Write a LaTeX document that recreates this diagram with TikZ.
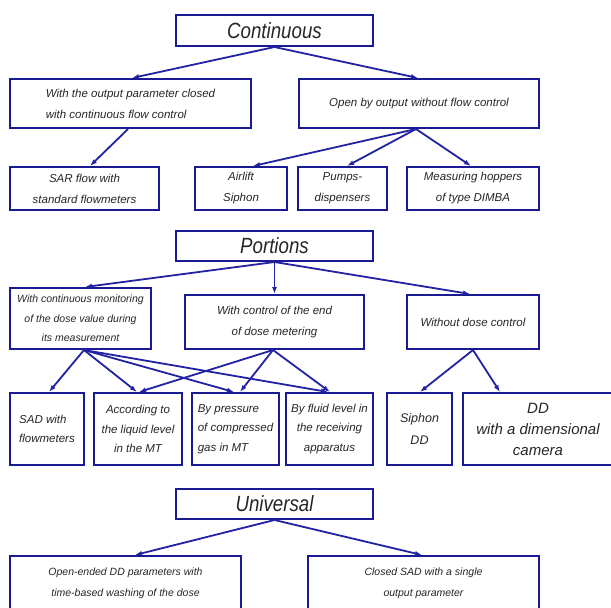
\documentclass[tikz,border=0pt]{standalone}
\usepackage{fontspec}
\setmainfont{Liberation Sans}
\newfontfamily\hdfont[FakeStretch=0.85]{Liberation Sans}
\usetikzlibrary{arrows.meta}
\definecolor{boxblue}{HTML}{1A1A92}
\definecolor{arrblue}{HTML}{2222A4}
\definecolor{txt}{HTML}{262626}
\begin{document}
\begin{tikzpicture}[x=1pt,y=-1pt,
 box/.style={draw=boxblue,line width=2pt,rectangle,inner sep=0pt,align=center,text=txt,
   font=\fontsize{11.5}{21}\selectfont\itshape},
 head/.style={box,font=\hdfont\fontsize{22}{24}\selectfont\itshape},
 three/.style={font=\fontsize{11.5}{19.5}\selectfont\itshape},
 arr/.style={draw=arrblue,line width=1.8pt,-{Latex[length=7pt,width=5pt]}}]
\useasboundingbox[fill=white] (0,0) rectangle (611,608);

% Continuous
\node[head,minimum width=197pt,minimum height=31pt] (cont) at (274.5,30.5) {Continuous};
\node[box,align=left,minimum width=241pt,minimum height=49pt] (l2a) at (130.5,103.5)
  {With the output parameter closed\\with continuous flow control};
\node[box,minimum width=240pt,minimum height=49pt] (l2b) at (419,103.5)
  {Open by output without flow control};
\node[box,minimum width=149pt,minimum height=43pt] (sar) at (84.5,188.5)
  {SAR flow with\\standard flowmeters};
\node[box,minimum width=92pt,minimum height=43pt] (air) at (241,188.5) {Airlift\\Siphon};
\node[box,minimum width=89pt,minimum height=43pt] (pump) at (342.5,188.5) {Pumps-\\dispensers};
\node[box,minimum width=132pt,minimum height=43pt] (meas) at (473,188.5)
  {Measuring hoppers\\of type DIMBA};

% Portions
\node[head,minimum width=197pt,minimum height=30pt] (port) at (274.5,246) {Portions};
\node[box,font=\fontsize{10.5}{19.5}\selectfont\itshape,minimum width=141pt,minimum height=61pt] (pa) at (80.5,318.5)
  {With continuous monitoring\\of the dose value during\\its measurement};
\node[box,minimum width=179pt,minimum height=54pt] (pb) at (274.5,322)
  {With control of the end\\of dose metering};
\node[box,minimum width=132pt,minimum height=54pt] (pc) at (473,322) {Without dose control};

\node[box,three,align=left,minimum width=74pt,minimum height=72pt] (sad) at (47,429)
  {SAD with\\flowmeters};
\node[box,three,minimum width=88pt,minimum height=72pt] (acc) at (138,429)
  {According to\\the liquid level\\in the MT};
\node[box,three,align=left,minimum width=87pt,minimum height=72pt] (pres) at (235.5,429)
  {By pressure\\of compressed\\gas in MT};
\node[box,three,minimum width=87pt,minimum height=72pt] (flu) at (329.5,429)
  {By fluid level in\\the receiving\\apparatus};
\node[box,font=\fontsize{12.5}{22}\selectfont\itshape,minimum width=65pt,minimum height=72pt] (sip) at (419.5,429)
  {Siphon\\DD};
\node[box,font=\fontsize{15}{21}\selectfont\itshape,minimum width=150pt,minimum height=72pt] (dd) at (538,429)
  {DD\\with a dimensional\\camera};

% Universal
\node[head,minimum width=197pt,minimum height=30pt] (univ) at (274.5,504) {Universal};
\node[box,font=\fontsize{10.5}{21}\selectfont\itshape,minimum width=231pt,minimum height=54pt] (ua) at (125.5,583)
  {Open-ended DD parameters with\\time-based washing of the dose};
\node[box,font=\fontsize{10.5}{21}\selectfont\itshape,minimum width=231pt,minimum height=54pt] (ub) at (423.5,583)
  {Closed SAD with a single\\output parameter};

% connectors
\draw[arr] (cont.south) -- ([xshift=1.5pt]l2a.north);
\draw[arr] (cont.south) -- ([xshift=-1pt]l2b.north);
\draw[arr] ([xshift=-2.5pt]l2a.south) -- ([xshift=5.5pt]sar.north);
\draw[arr] ([xshift=-3pt]l2b.south) -- ([xshift=12pt]air.north);
\draw[arr] ([xshift=-3pt]l2b.south) -- ([xshift=4.5pt]pump.north);
\draw[arr] ([xshift=-3pt]l2b.south) -- ([xshift=-2pt]meas.north);

\draw[arr] (port.south) -- ([xshift=4.5pt]pa.north);
\draw[arr] (port.south) -- (pb.north);
\draw[arr] (port.south) -- ([xshift=-3pt]pc.north);

\draw[arr] ([xshift=3.5pt]pa.south) -- ([xshift=2pt]sad.north);
\draw[arr] ([xshift=3.5pt]pa.south) -- ([xshift=-1pt]acc.north);
\draw[arr] ([xshift=3.5pt]pa.south) -- ([xshift=-1.5pt]pres.north);
\draw[arr] ([xshift=3.5pt]pa.south) -- ([xshift=-1.5pt]flu.north);
\draw[arr] ([xshift=-1.5pt]pb.south) -- ([xshift=1pt]acc.north);
\draw[arr] ([xshift=-1.5pt]pb.south) -- ([xshift=4.5pt]pres.north);
\draw[arr] ([xshift=-1.5pt]pb.south) -- ([xshift=0.5pt]flu.north);
\draw[arr] (pc.south) -- ([xshift=0.5pt]sip.north);
\draw[arr] (pc.south) -- ([xshift=-38pt]dd.north);

\draw[arr] (univ.south) -- ([xshift=9.5pt]ua.north);
\draw[arr] (univ.south) -- ([xshift=-1.5pt]ub.north);
\end{tikzpicture}
\end{document}
